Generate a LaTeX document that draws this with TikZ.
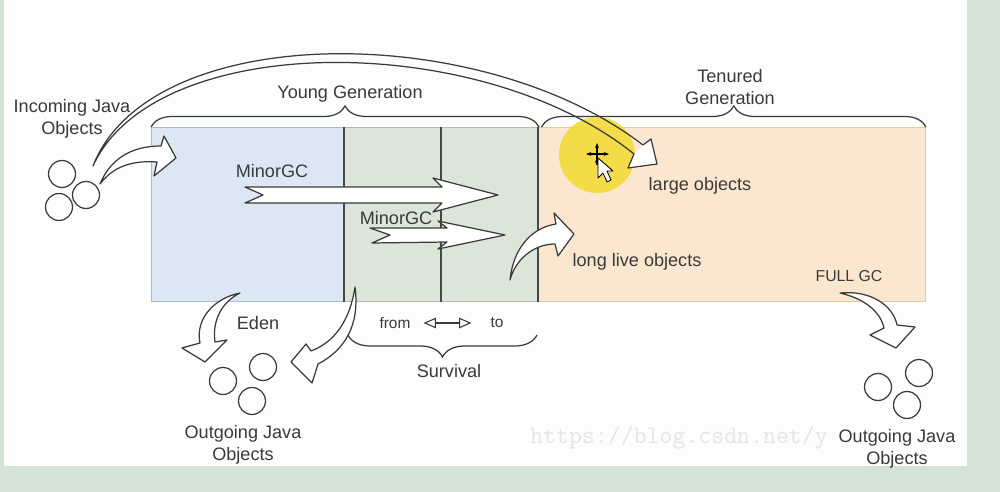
\documentclass[tikz,border=0pt]{standalone}
\usepackage{fontspec}
\setmainfont{Liberation Sans}
\usetikzlibrary{arrows.meta, decorations.pathreplacing, positioning}

\definecolor{bggreen}{HTML}{D3E4D5}
\definecolor{paper}{HTML}{FDFDFB}
\definecolor{ink}{HTML}{3A3A3A}
\definecolor{edenblue}{HTML}{DCE7F5}
\definecolor{edenline}{HTML}{A9BBD3}
\definecolor{survgreen}{HTML}{DBE5D8}
\definecolor{tenorange}{HTML}{FBE7CF}
\definecolor{tenline}{HTML}{E5CBA3}
\definecolor{hilite}{HTML}{F3DB3A}

\begin{document}
\begin{tikzpicture}[
    x=0.02cm, y=-0.02cm,
    font=\fontsize{10.3}{12.5}\selectfont,
    text=ink,
    %% ── Box styles ──────────────────────────────────────────────────────
    area/.style={
        anchor=north west,
        minimum height=3.48cm,
        inner sep=0pt,
        line width=0.6pt,
    },
    edenbox/.style={area, fill=edenblue, draw=edenline},
    survbox/.style={area, fill=survgreen, draw=gray!55},
    tenbox/.style={area, fill=tenorange, draw=tenline},
    ball/.style={
        draw=ink, circle,
        minimum size=0.54cm, inner sep=0pt,
        line width=0.7pt,
    },
    lbl/.style={align=center, inner sep=1pt},
    small/.style={font=\fontsize{8.8}{10}\selectfont},
    %% ── Line styles ─────────────────────────────────────────────────────
    divider/.style={draw=black!72, line width=0.8pt},
    %% Curly brace over (or under) a region
    curly/.style={
        decorate, decoration={brace, amplitude=#1},
        draw=ink, line width=0.7pt,
    },
    %% Hollow block arrow
    hollow/.style={
        draw=ink, fill=white,
        line width=0.7pt, line join=round,
    },
    %% from <-> to
    swap/.style={
        {Triangle[open, length=7pt, width=6pt]}-{Triangle[open, length=7pt, width=6pt]},
        draw=ink, line width=0.6pt,
    },
]

\useasboundingbox (0,0) rectangle (1000,492);
\fill[bggreen] (0,0) rectangle (1000,492);
\fill[paper] (4,0) rectangle (967,466);

%%─────────────────────────────────────────────────────────────────────────
%% Heap regions
%%─────────────────────────────────────────────────────────────────────────
\node[edenbox, minimum width=3.86cm] (eden)    at (151,127) {};
\node[survbox, minimum width=1.94cm] (from)    at (344,127) {};
\node[survbox, minimum width=1.94cm] (to)      at (441,127) {};
\node[tenbox,  minimum width=7.74cm] (tenured) at (538,127) {};

\draw[divider] (from.north west)    -- (from.south west);
\draw[divider] (to.north west)      -- (to.south west);
\draw[divider] (tenured.north west) -- (tenured.south west);

%%─────────────────────────────────────────────────────────────────────────
%% Braces and region labels
%%─────────────────────────────────────────────────────────────────────────
\draw[curly=0.42cm] (eden.north west) -- (to.north east);
\draw[curly=0.42cm] ([xshift=2pt]tenured.north west) -- (tenured.north east);
\draw[curly=0.44cm] (537,335) -- (348,335);

\node[lbl] (younglbl)   at (350,94)  {Young Generation};
\node[lbl] (tenuredlbl) at (730,87)  {Tenured\\Generation};
\node[lbl] (survlbl)    at (449,371) {Survival};
\node[lbl] (edenlbl)    at (258,323) {Eden};

\node[lbl, small] (fromlbl) at (395,323) {from};
\node[lbl, small] (tolbl)   at (497,323) {to};
\draw[swap, shorten <=0.22cm, shorten >=0.34cm] (fromlbl) -- (tolbl);

\node[lbl] (minor1)  at (272,171) {MinorGC};
\node[lbl] (minor2)  at (396,218) {MinorGC};
\node[lbl] (large)   at (700,186) {large objects};
\node[lbl] (longlv)  at (637,262) {long live objects};
\node[lbl, font=\fontsize{9}{11}\selectfont] (fullgc) at (849,276) {FULL GC};

%%─────────────────────────────────────────────────────────────────────────
%% Objects coming in and going out
%%─────────────────────────────────────────────────────────────────────────
\node[lbl] (inlbl) at (72,119) {Incoming Java\\Objects};
\node[ball] (in1) at (62,174) {};
\node[ball] (in2) at (86,195) {};
\node[ball] (in3) at (59,207) {};

\node[anchor=west, text=black!10,
      font=\ttfamily\fontsize{14.3}{16}\selectfont] (mark) at (524,438) {https://blog.csdn.net/y};

\node[ball] (outl1) at (223,381) {};
\node[ball] (outl2) at (263,367) {};
\node[ball] (outl3) at (252,401) {};
\node[lbl] (outllbl) at (243,445) {Outgoing Java\\Objects};

\node[ball] (outr1) at (878,387) {};
\node[ball] (outr2) at (919,373) {};
\node[ball] (outr3) at (907,405) {};
\node[lbl] (outrlbl) at (897,449) {Outgoing Java\\Objects};

%%─────────────────────────────────────────────────────────────────────────
%% Block arrows
%%─────────────────────────────────────────────────────────────────────────

%% incoming -> Eden
\draw[hollow] (100,184) .. controls (110,160) and (130,146) .. (161,146)
    -- (164,136) -- (176,158) -- (154,176) -- (157,162)
    .. controls (130,160) and (112,168) .. (100,184) -- cycle;

%% Eden -> from, from -> to
\draw[hollow] (245,187) -- (442,187) -- (433,178) -- (498,195)
    -- (433,212) -- (442,203) -- (245,203) -- (263,195) -- cycle;
\draw[hollow] (370,228) -- (447,228) -- (438,221) -- (505,235)
    -- (438,249) -- (447,242) -- (372,243) -- (390,235) -- cycle;

%% to -> Tenured
\draw[hollow] (510,280) .. controls (513,250) and (530,228) .. (556,224)
    -- (554,213) -- (574,234) -- (558,256) -- (555,244)
    .. controls (535,244) and (516,258) .. (510,280) -- cycle;

%% Eden -> outgoing, from -> outgoing
\draw[hollow] (240,293) .. controls (215,298) and (195,318) .. (200,343)
    -- (182,348) -- (205,362) -- (227,340) -- (215,342)
    .. controls (212,320) and (222,302) .. (240,293) -- cycle;
\draw[hollow] (355,287) .. controls (360,325) and (345,350) .. (318,364)
    -- (312,383) -- (291,362) -- (306,344) -- (311,351)
    .. controls (335,342) and (350,320) .. (355,287) -- cycle;

%% FULL GC -> outgoing
\draw[hollow] (840,293) .. controls (870,290) and (893,305) .. (897,325)
    -- (915,327) -- (896,348) -- (870,335) -- (884,328)
    .. controls (880,310) and (862,298) .. (840,293) -- cycle;

%% pointer highlight
\fill[hilite, opacity=0.9] (597,155) circle[radius=0.76cm];

%% incoming -> large objects (straight into Tenured)
\fill[white] (643,145) -- (651,139) -- (657,164) -- (628,168) -- (634,154) -- cycle;
\draw[hollow, fill=none] (93,166) .. controls (150,20) and (480,20) .. (643,145)
    -- (651,139) -- (657,164) -- (628,168) -- (634,154)
    .. controls (480,30) and (155,30) .. (93,166) -- cycle;

%% mouse pointer
\draw[black, line width=0.9pt, {Stealth[length=3pt]}-{Stealth[length=3pt]}] (586,154) -- (609,154);
\draw[black, line width=0.9pt, {Stealth[length=3pt]}-{Stealth[length=3pt]}] (597,143) -- (597,166);
\draw[black, fill=white, line width=0.5pt, line join=round]
    (598,158) -- (598,178) -- (603,173) -- (607,182) -- (611,180) -- (607,171) -- (613,171) -- cycle;

\end{tikzpicture}
\end{document}
